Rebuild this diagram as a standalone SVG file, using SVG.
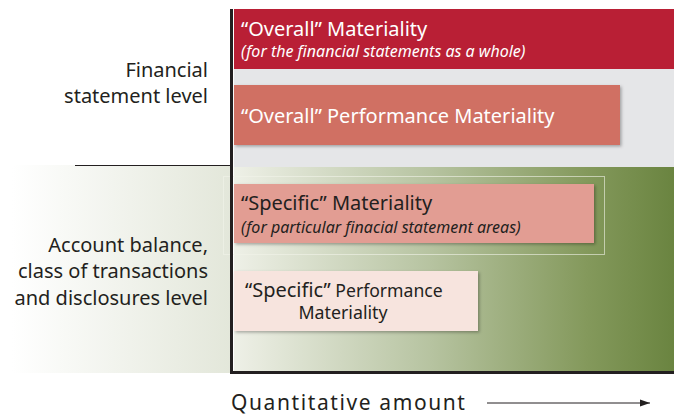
<svg xmlns="http://www.w3.org/2000/svg" width="674" height="416" viewBox="0 0 674 416">
<defs>
<linearGradient id="gGreen" x1="234" y1="0" x2="674" y2="0" gradientUnits="userSpaceOnUse">
<stop offset="0" stop-color="#eef0e7"/>
<stop offset="0.45" stop-color="#b6c3a0"/>
<stop offset="0.8" stop-color="#84995c"/>
<stop offset="1" stop-color="#6a8440"/>
</linearGradient>
<linearGradient id="gLeft" x1="12" y1="0" x2="231" y2="0" gradientUnits="userSpaceOnUse">
<stop offset="0" stop-color="#ffffff"/>
<stop offset="1" stop-color="#e3e7da"/>
</linearGradient>
<filter id="sh" x="-5%" y="-10%" width="115%" height="130%">
<feDropShadow dx="1.5" dy="1.5" stdDeviation="1.5" flood-color="#000" flood-opacity="0.3"/>
</filter>
<marker id="arr" viewBox="0 0 10 10" refX="10" refY="5" markerWidth="10" markerHeight="10" markerUnits="userSpaceOnUse" orient="auto">
<path d="M0,1.5 L10,5 L0,8.5 z" fill="#231f20"/>
</marker>
<style>
.t{font-family:"Noto Sans","Open Sans",sans-serif;}
.lbl{font-size:20px;fill:#231f20;text-anchor:end;}
.big{font-size:20px;}
.it{font-size:16px;font-style:italic;}
.w{fill:#ffffff;}
.d{fill:#231f20;}
</style>
</defs>
<rect x="0" y="0" width="674" height="416" fill="#ffffff"/>
<g id="background">
<rect x="12" y="165" width="219" height="208" fill="url(#gLeft)"/>
<rect x="234" y="69" width="440" height="98" fill="#e5e6e8"/>
<rect x="234" y="167" width="440" height="205" fill="url(#gGreen)"/>
<rect x="223.5" y="176.5" width="381" height="78" fill="none" stroke="#f2f4ea" stroke-opacity="0.6" stroke-width="1"/>
</g>
<g id="overall-materiality">
<rect x="234" y="9" width="440" height="60" fill="#b91f35"/>
<text class="t big w" x="241" y="36">“Overall” Materiality</text>
<text class="t it w" x="241" y="57">(for the financial statements as a whole)</text>
</g>
<g id="overall-performance">
<rect x="234" y="85" width="386" height="60" fill="#d06f64" filter="url(#sh)"/>
<text class="t big w" x="241" y="123">“Overall” Performance Materiality</text>
</g>
<g id="specific-materiality">
<rect x="234" y="184" width="360" height="59" fill="#e29d93" filter="url(#sh)"/>
<text class="t big d" x="241" y="210">“Specific” Materiality</text>
<text class="t it d" x="241" y="233">(for particular finacial statement areas)</text>
</g>
<g id="specific-performance">
<rect x="234" y="271" width="244" height="60" fill="#f7e4de" filter="url(#sh)"/>
<text class="t d" x="245" y="297"><tspan font-size="20">“Specific”</tspan><tspan font-size="17.6"> Performance</tspan></text>
<text class="t d" x="343" y="319" font-size="17.8" text-anchor="middle">Materiality</text>
</g>
<g id="labels">
<text class="t lbl" x="208" y="77">Financial</text>
<text class="t lbl" x="208" y="103">statement level</text>
<text class="t lbl" x="208" y="252">Account balance,</text>
<text class="t lbl" x="208" y="278">class of transactions</text>
<text class="t lbl" x="208" y="305">and disclosures level</text>
<text class="t" x="231" y="410" font-size="21" fill="#231f20" letter-spacing="1.6">Quantitative amount</text>
</g>
<g id="connectors">
<line x1="75" y1="165.5" x2="231" y2="165.5" stroke="#231f20" stroke-width="1"/>
<polyline points="231.5,9 231.5,372.5 674,372.5" fill="none" stroke="#231f20" stroke-width="3"/>
<line x1="487" y1="403" x2="650" y2="403" stroke="#231f20" stroke-width="1" marker-end="url(#arr)"/>
</g>
</svg>
